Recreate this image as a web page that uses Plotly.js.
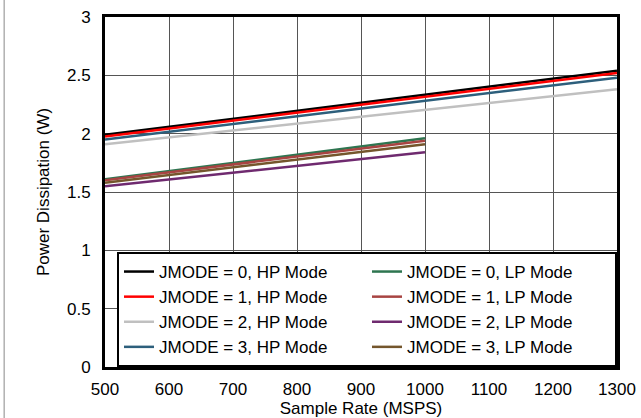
<!DOCTYPE html>
<html>
<head>
<meta charset="utf-8">
<script src="https://cdn.plot.ly/plotly-3.0.1.min.js"></script>
<style>html,body{margin:0;padding:0;background:#fff;}#chart{width:641px;height:418px;}</style>
</head>
<body>
<div id="chart"></div>
<script>
// Sample rate (MSPS)
const xHP = [500, 1300];
const xLP = [500, 1000];
// Power dissipation (W)
const hp0 = [1.99, 2.54];
const hp1 = [1.975, 2.52];
const hp2 = [1.91, 2.38];
const hp3 = [1.95, 2.48];
const lp0 = [1.61, 1.96];
const lp1 = [1.60, 1.94];
const lp2 = [1.55, 1.84];
const lp3 = [1.58, 1.91];
const names = [
  "JMODE = 0, HP Mode", "JMODE = 0, LP Mode",
  "JMODE = 1, HP Mode", "JMODE = 1, LP Mode",
  "JMODE = 2, HP Mode", "JMODE = 2, LP Mode",
  "JMODE = 3, HP Mode", "JMODE = 3, LP Mode"
];
const colors = ["#000000", "#2e7550", "#ff0000", "#a84442", "#c0c0c0", "#6f2a6f", "#2d5f7c", "#74562c"];
const xs = [xHP, xLP, xHP, xLP, xHP, xLP, xHP, xLP];
const ys = [hp0, lp0, hp1, lp1, hp2, lp2, hp3, lp3];
const xTicks = [500, 600, 700, 800, 900, 1000, 1100, 1200, 1300];
const yTicks = [0, 0.5, 1, 1.5, 2, 2.5, 3];

const traces = names.map((n, i) => ({
  x: xs[i], y: ys[i], name: n, mode: "lines", type: "scatter",
  line: {color: colors[i], width: 2.5}
}));

const font = {family: "Liberation Sans, Arial, sans-serif", size: 17, color: "#000"};
const layout = {
  width: 641, height: 418,
  margin: {l: 105, r: 24, t: 17, b: 51},
  paper_bgcolor: "#fff", plot_bgcolor: "#fff",
  font: font,
  showlegend: true,
  legend: {
    orientation: "h", x: 1, xanchor: "right", y: 0, yanchor: "bottom",
    entrywidth: 203, entrywidthmode: "pixels",
    bordercolor: "#000", borderwidth: 2, bgcolor: "#fff",
    font: {family: font.family, size: 17, color: "#000"},
    traceorder: "normal", tracegroupgap: 0
  },
  xaxis: {
    range: [500, 1300], tickvals: xTicks, ticktext: xTicks.map(String),
    showgrid: true, gridcolor: "#555", gridwidth: 1, zeroline: false,
    showline: true, linecolor: "#000", linewidth: 3, mirror: true,
    ticks: "", ticklabelstandoff: 5,
    title: {text: "Sample Rate (MSPS)", font: font, standoff: 2}
  },
  yaxis: {
    range: [0, 3], tickvals: yTicks, ticktext: yTicks.map(String),
    showgrid: true, gridcolor: "#555", gridwidth: 1, zeroline: false,
    showline: true, linecolor: "#000", linewidth: 3, mirror: true,
    ticks: "", ticklabelstandoff: 8,
    title: {text: "Power Dissipation (W)", font: font, standoff: 14}
  },
  shapes: [{
    type: "line", xref: "paper", yref: "paper",
    x0: -0.197, x1: -0.197, y0: -0.2, y1: 1.1,
    line: {color: "#888", width: 1}, layer: "below"
  }]
};
Plotly.newPlot("chart", traces, layout, {staticPlot: true, displayModeBar: false});
</script>
</body>
</html>
